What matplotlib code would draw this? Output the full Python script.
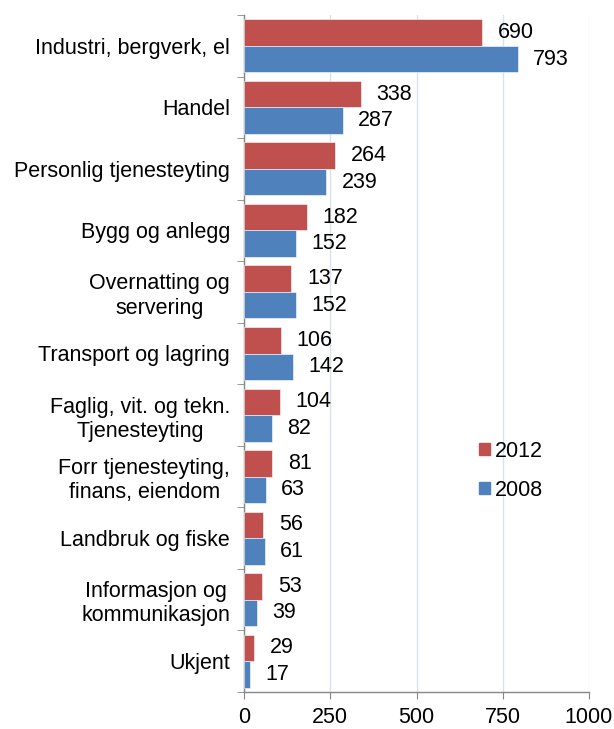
import matplotlib
matplotlib.use("Agg")
import matplotlib.pyplot as plt
import numpy as np
from matplotlib.patches import Patch

plt.rcParams['font.family'] = ['Liberation Sans', 'DejaVu Sans']

categories = ["Industri, bergverk, el", "Handel", "Personlig tjenesteyting",
              "Bygg og anlegg", "Overnatting og\nservering", "Transport og lagring",
              "Faglig, vit. og tekn.\nTjenesteyting", "Forr tjenesteyting,\nfinans, eiendom",
              "Landbruk og fiske", "Informasjon og\nkommunikasjon", "Ukjent"]
values_2012 = [690, 338, 264, 182, 137, 106, 104, 81, 56, 53, 29]
values_2008 = [793, 287, 239, 152, 152, 142, 82, 63, 61, 39, 17]
series_names = ["2012", "2008"]
xticks = [0, 250, 500, 750, 1000]

red = "#C0504D"
blue = "#4F81BD"
fs = 15.5

fig = plt.figure(figsize=(6.14, 7.29), dpi=100)
ax = fig.add_axes([244/614, 1-692/729, (589-244)/614, (692-15)/729])

n = len(categories)
y = np.arange(n)
h = 0.43
ax.barh(y - h/2, values_2012, height=h, color=red, edgecolor="white", linewidth=0.4, zorder=3)
ax.barh(y + h/2, values_2008, height=h, color=blue, edgecolor="white", linewidth=0.4, zorder=3)

for i in range(n):
    ax.annotate(str(values_2012[i]), (values_2012[i], y[i] - h/2), xytext=(11.5, 0),
                textcoords="offset points", va="center", ha="left", fontsize=fs)
    ax.annotate(str(values_2008[i]), (values_2008[i], y[i] + h/2), xytext=(11, 0),
                textcoords="offset points", va="center", ha="left", fontsize=fs)

ax.set_ylim(n - 0.5, -0.5)
ax.set_xlim(0, 1000)
ax.set_xticks(xticks)
ax.set_xticklabels([str(t) for t in xticks], fontsize=fs)
ax.set_yticks(y)
ax.set_yticklabels(categories, fontsize=fs, multialignment="center")
ax.tick_params(axis="y", length=0, pad=10)
ax.set_yticks(np.arange(-0.5, n, 1.0), minor=True)
ax.tick_params(axis="y", which="minor", length=5, color="#868686", direction="out")
ax.tick_params(axis="x", length=5, color="#868686", direction="out", pad=6)

ax.grid(axis="x", color="#D9E1EE", linewidth=1, zorder=0)
ax.set_axisbelow(True)
for s in ["top", "right"]:
    ax.spines[s].set_visible(False)
for s in ["left", "bottom"]:
    ax.spines[s].set_color("#868686")
    ax.spines[s].set_linewidth(1)

handles = [Patch(color=red), Patch(color=blue)]
leg = ax.legend(handles, series_names, loc="upper left", bbox_to_anchor=(0.625, 0.40),
                frameon=False, fontsize=fs, handlelength=0.5, handleheight=0.5,
                handletextpad=0.25, labelspacing=0.85)

fig.savefig("out.png", dpi=100)
